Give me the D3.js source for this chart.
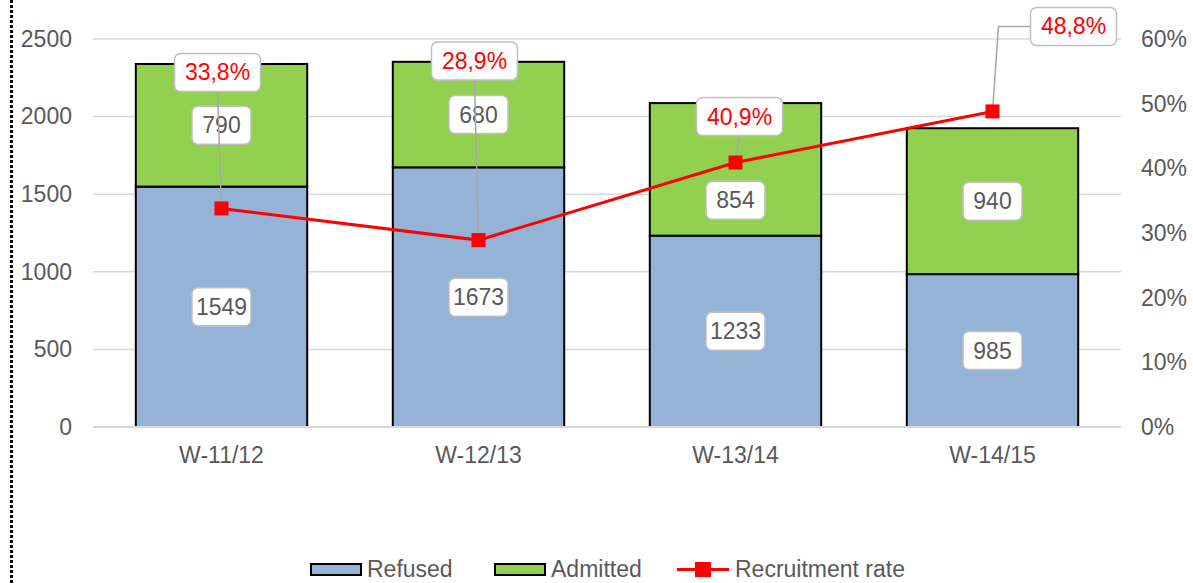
<!DOCTYPE html>
<html>
<head>
<meta charset="utf-8">
<script src="https://cdn.jsdelivr.net/npm/d3@7"></script>
<style>
  body { margin: 0; background: #fff; }
  svg { display: block; font-family: "Liberation Sans", Arial, sans-serif; }
</style>
</head>
<body>
<svg id="chart" width="1193" height="583"></svg>
<script>
// data
const seasons = ["W-11/12", "W-12/13", "W-13/14", "W-14/15"]
const refused = [1549, 1673, 1233, 985]
const admitted = [790, 680, 854, 940]
const recruitmentRate = [33.8, 28.9, 40.9, 48.8]
const leftTicks = [0, 500, 1000, 1500, 2000, 2500]
const rightTicks = [0, 10, 20, 30, 40, 50, 60]

// label placement tweaks (pixels, relative to default position)
const rateLabelShift = [[-4, -136], [-4, -179], [4, -46], [81, -85]]
const admittedLabelShift = [0, 0, 31, 0]

const width = 1193, height = 583
const margin = { left: 93, right: 72, top: 39, bottom: 156 }
const textGrey = "#595959"
const fontSize = 23

const svg = d3.select("#chart")

// dotted frame edge on the left
svg.append("line")
  .attr("x1", 11.5).attr("x2", 11.5).attr("y1", 0).attr("y2", height)
  .attr("stroke", "#000").attr("stroke-width", 3)
  .attr("stroke-dasharray", "3,2")

const x = d3.scaleBand()
  .domain(seasons)
  .range([margin.left, width - margin.right])
  .paddingInner(0.333).paddingOuter(0.1665)

const y = d3.scaleLinear().domain([0, 2500]).range([height - margin.bottom, margin.top])
const y2 = d3.scaleLinear().domain([0, 60]).range([height - margin.bottom, margin.top])

// gridlines
svg.append("g").selectAll("line").data(leftTicks)
  .join("line")
  .attr("x1", margin.left).attr("x2", width - margin.right)
  .attr("y1", d => y(d)).attr("y2", d => y(d))
  .attr("stroke", "#d9d9d9").attr("stroke-width", 1.5)

function styleAxis(g) {
  g.select(".domain").remove()
  g.selectAll("text")
    .attr("font-size", fontSize)
    .attr("fill", textGrey)
    .attr("font-family", "Liberation Sans, Arial")
}

// left axis
svg.append("g")
  .attr("transform", `translate(${margin.left - 21},0)`)
  .call(d3.axisLeft(y).tickValues(leftTicks).tickFormat(d3.format("d")).tickSize(0).tickPadding(0))
  .call(styleAxis)

// right axis
svg.append("g")
  .attr("transform", `translate(${width - margin.right + 20},0)`)
  .call(d3.axisRight(y2).tickValues(rightTicks).tickFormat(d => d + "%").tickSize(0).tickPadding(0))
  .call(styleAxis)

// bottom axis labels
svg.append("g")
  .attr("transform", `translate(0,${height - margin.bottom})`)
  .call(d3.axisBottom(x).tickSize(0).tickPadding(20))
  .call(styleAxis)

// stacked bars
const stackData = seasons.map((s, i) => ({ season: s, Refused: refused[i], Admitted: admitted[i] }))
const stack = d3.stack().keys(["Refused", "Admitted"])(stackData)
const colours = { Refused: "#95b3d7", Admitted: "#92d050" }

svg.append("g").selectAll("g").data(stack)
  .join("g")
  .attr("fill", d => colours[d.key])
  .selectAll("rect").data(d => d)
  .join("rect")
  .attr("x", d => x(d.data.season))
  .attr("width", x.bandwidth())
  .attr("y", d => y(d[1]))
  .attr("height", d => y(d[0]) - y(d[1]))
  .attr("stroke", "#000").attr("stroke-width", 2)

// redraw zero line over the bars' bottom edge
svg.append("line")
  .attr("x1", margin.left).attr("x2", width - margin.right)
  .attr("y1", y(0)).attr("y2", y(0))
  .attr("stroke", "#d9d9d9").attr("stroke-width", 2)

function labelBox(g, cx, cy, text, colour, w) {
  g.append("rect")
    .attr("x", cx - w / 2).attr("y", cy - 19)
    .attr("width", w).attr("height", 38)
    .attr("rx", 6)
    .attr("fill", "#fff").attr("stroke", "#bfbfbf").attr("stroke-width", 1.5)
  g.append("text")
    .attr("x", cx).attr("y", cy + 8)
    .attr("text-anchor", "middle")
    .attr("font-size", fontSize)
    .attr("fill", colour)
    .text(text)
}

// segment value labels
const valueLabels = svg.append("g")
seasons.forEach((s, i) => {
  const cx = x(s) + x.bandwidth() / 2
  labelBox(valueLabels, cx, y(refused[i] / 2), refused[i], textGrey, 59)
  labelBox(valueLabels, cx, y(refused[i] + admitted[i] / 2) + admittedLabelShift[i], admitted[i], textGrey, 59)
})

// leader lines for the rate labels
const leaders = svg.append("g").attr("stroke", "#a6a6a6").attr("stroke-width", 1.5).attr("fill", "none")
seasons.forEach((s, i) => {
  const px = x(s) + x.bandwidth() / 2
  const py = y2(recruitmentRate[i])
  const lx = px + rateLabelShift[i][0]
  const ly = py + rateLabelShift[i][1]
  if (i == 3) {
    leaders.append("path").attr("d", `M${px},${py} L${px + 6},${ly} L${lx - 43},${ly}`)
  } else {
    leaders.append("path").attr("d", `M${px},${py} L${lx},${ly + 19}`)
  }
})

// recruitment rate line
const line = d3.line()
  .x((d, i) => x(seasons[i]) + x.bandwidth() / 2)
  .y(d => y2(d))

svg.append("path")
  .datum(recruitmentRate)
  .attr("d", line)
  .attr("fill", "none").attr("stroke", "#ff0000").attr("stroke-width", 3)

svg.append("g").selectAll("rect").data(recruitmentRate)
  .join("rect")
  .attr("x", (d, i) => x(seasons[i]) + x.bandwidth() / 2 - 7)
  .attr("y", d => y2(d) - 7)
  .attr("width", 14).attr("height", 14)
  .attr("fill", "#ff0000")

// rate labels
const rateLabels = svg.append("g")
seasons.forEach((s, i) => {
  const px = x(s) + x.bandwidth() / 2
  const py = y2(recruitmentRate[i])
  labelBox(rateLabels, px + rateLabelShift[i][0], py + rateLabelShift[i][1],
    d3.format(".1f")(recruitmentRate[i]).replace(".", ",") + "%", "#ff0000", 86)
})

// legend
const legend = svg.append("g").attr("font-size", fontSize).attr("fill", textGrey)
const legendItems = [
  { name: "Refused", type: "bar", colour: colours.Refused, x: 311 },
  { name: "Admitted", type: "bar", colour: colours.Admitted, x: 495 },
  { name: "Recruitment rate", type: "line", colour: "#ff0000", x: 677 }
]
legendItems.forEach(item => {
  if (item.type == "bar") {
    legend.append("rect")
      .attr("x", item.x).attr("y", 564).attr("width", 50).attr("height", 11)
      .attr("fill", item.colour).attr("stroke", "#000").attr("stroke-width", 2)
  } else {
    legend.append("line")
      .attr("x1", item.x).attr("x2", item.x + 52).attr("y1", 569.5).attr("y2", 569.5)
      .attr("stroke", item.colour).attr("stroke-width", 3)
    legend.append("rect")
      .attr("x", item.x + 18).attr("y", 562).attr("width", 16).attr("height", 15)
      .attr("fill", item.colour)
  }
  legend.append("text")
    .attr("x", item.x + (item.type == "bar" ? 56 : 58)).attr("y", 577)
    .text(item.name)
})
</script>
</body>
</html>
